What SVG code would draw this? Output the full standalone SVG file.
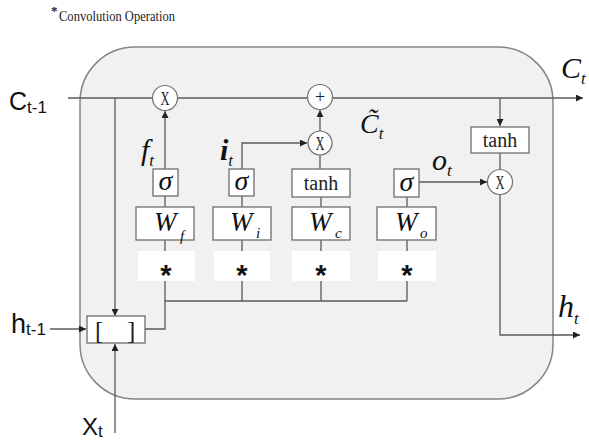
<svg xmlns="http://www.w3.org/2000/svg" width="589" height="443" viewBox="0 0 589 443">
<defs>
<marker id="ah" viewBox="0 0 10 10" refX="10" refY="5" markerWidth="7" markerHeight="7" markerUnits="userSpaceOnUse" orient="auto">
<path d="M0,0 L10,5 L0,10 z" fill="#222"/>
</marker>
<style>
.cell{fill:#f1f1f1;stroke:#858585;stroke-width:1.5}
.box{fill:#ffffff;stroke:#6e6e6e;stroke-width:1.3}
.star{fill:#ffffff;stroke:none}
.op{fill:#ffffff;stroke:#6e6e6e;stroke-width:1.2}
.ln{fill:none;stroke:#5a5a5a;stroke-width:1.3}
.arr{fill:none;stroke:#5a5a5a;stroke-width:1.3;marker-end:url(#ah)}
.sans{font-family:"Liberation Sans",Arial,sans-serif;fill:#111}
.serif{font-family:"Liberation Serif","Times New Roman",serif;fill:#222}
.it{font-family:"Liberation Serif","Times New Roman",serif;font-style:italic;fill:#111}
.x{font-family:"Liberation Serif","Times New Roman",serif;fill:#222;font-size:19px}
</style>
</defs>
<rect width="589" height="443" fill="#ffffff"/>
<g id="note">
<text class="serif" x="51" y="15" font-size="13" font-weight="bold">*</text>
<text class="serif" x="59" y="21" font-size="14" textLength="116" lengthAdjust="spacingAndGlyphs">Convolution Operation</text>
</g>
<g id="cell"><rect class="cell" x="80" y="47" width="473" height="352" rx="55" ry="55"/></g>
<g id="connectors">
<path class="arr" d="M68,98 H583"/>
<path class="arr" d="M115,98 V316"/>
<path class="arr" d="M115,433 V344"/>
<path class="arr" d="M50,329 H86"/>
<path class="ln" d="M145,329 H165 V301 H407"/>
<path class="ln" d="M165,301 V281 M242,301 V281 M321,301 V281 M407,301 V281"/>
<path class="ln" d="M165,251 V240 M242,251 V240 M321,251 V240 M407,251 V240"/>
<path class="ln" d="M165,207 V196 M242,207 V196 M321,207 V197 M407,207 V197"/>
<path class="arr" d="M165,169 V111"/>
<path class="arr" d="M242,169 V143 H307"/>
<path class="ln" d="M320,169 V155"/>
<path class="arr" d="M320,131 V110"/>
<path class="arr" d="M419,182 H487"/>
<path class="arr" d="M500,98 V126"/>
<path class="ln" d="M500,153 V170"/>
<path class="arr" d="M500,194 V335 H580"/>
</g>
<g id="concat">
<rect class="box" x="87" y="316" width="58" height="27"/>
<text class="serif" x="95" y="339" font-size="25">[</text>
<text class="serif" x="127" y="339" font-size="25">]</text>
</g>
<g id="star-f"><rect class="star" x="138" y="251" width="57" height="30"/><text class="sans" x="166" y="285" font-size="29" font-weight="bold" text-anchor="middle">*</text></g>
<g id="star-i"><rect class="star" x="214" y="251" width="56" height="30"/><text class="sans" x="242" y="285" font-size="29" font-weight="bold" text-anchor="middle">*</text></g>
<g id="star-c"><rect class="star" x="292" y="251" width="58" height="30"/><text class="sans" x="321" y="285" font-size="29" font-weight="bold" text-anchor="middle">*</text></g>
<g id="star-o"><rect class="star" x="378" y="251" width="58" height="30"/><text class="sans" x="407" y="285" font-size="29" font-weight="bold" text-anchor="middle">*</text></g>
<g id="W-f"><rect class="box" x="136" y="207" width="58" height="33"/><text class="it" x="154" y="231" font-size="27">W</text><text class="it" x="180" y="241" font-size="15">f</text></g>
<g id="W-i"><rect class="box" x="213" y="207" width="58" height="33"/><text class="it" x="230" y="231" font-size="27">W</text><text class="it" x="256" y="238" font-size="15">i</text></g>
<g id="W-c"><rect class="box" x="292" y="207" width="58" height="33"/><text class="it" x="309" y="231" font-size="27">W</text><text class="it" x="335" y="238" font-size="15">c</text></g>
<g id="W-o"><rect class="box" x="377" y="207" width="59" height="33"/><text class="it" x="395" y="231" font-size="27">W</text><text class="it" x="420" y="238" font-size="15">o</text></g>
<g id="sigma-f"><rect class="box" x="153" y="169" width="25" height="27"/><text class="it" x="165.5" y="190" font-size="28" text-anchor="middle">σ</text></g>
<g id="sigma-i"><rect class="box" x="229" y="169" width="25" height="27"/><text class="it" x="241.5" y="190" font-size="28" text-anchor="middle">σ</text></g>
<g id="tanh-c"><rect class="box" x="292" y="169" width="58" height="28"/><text class="serif" x="321" y="190" font-size="20" text-anchor="middle">tanh</text></g>
<g id="sigma-o"><rect class="box" x="394" y="169" width="25" height="28"/><text class="it" x="406.5" y="191" font-size="28" text-anchor="middle">σ</text></g>
<g id="tanh-out"><rect class="box" x="471" y="127" width="58" height="26"/><text class="serif" x="500" y="147" font-size="20" text-anchor="middle">tanh</text></g>
<g id="mul-f"><circle class="op" cx="165" cy="98" r="12.5"/><text class="x" x="160.5" y="105" textLength="9" lengthAdjust="spacingAndGlyphs">X</text></g>
<g id="add"><circle class="op" cx="320" cy="97" r="12.5"/><text class="serif" x="320" y="103" font-size="18" text-anchor="middle">+</text></g>
<g id="mul-i"><circle class="op" cx="320" cy="143" r="12"/><text class="x" x="315.5" y="150" textLength="9" lengthAdjust="spacingAndGlyphs">X</text></g>
<g id="mul-o"><circle class="op" cx="500" cy="182" r="12.5"/><text class="x" x="495.5" y="189" textLength="9" lengthAdjust="spacingAndGlyphs">X</text></g>
<g id="labels">
<text class="sans" x="9" y="110" font-size="25">C<tspan font-size="17" dy="3">t-1</tspan></text>
<text class="sans" x="11" y="333" font-size="27">h<tspan font-size="17" dy="2">t-1</tspan></text>
<text class="sans" x="82" y="435" font-size="24">X<tspan font-size="17" dy="2">t</tspan></text>
<text class="it" x="141" y="160" font-size="30">f<tspan font-size="17" dy="6">t</tspan></text>
<text class="it" x="220" y="160" font-size="30" font-weight="bold">i<tspan font-size="17" dy="6" font-weight="normal">t</tspan></text>
<text class="it" x="432" y="170" font-size="30">o<tspan font-size="17" dy="6">t</tspan></text>
<text class="it" x="360" y="133" font-size="28">C&#771;<tspan font-size="17" dy="6">t</tspan></text>
<text class="it" x="561" y="78" font-size="30">C<tspan font-size="17" dy="6">t</tspan></text>
<text class="it" x="558" y="317" font-size="32">h<tspan font-size="17" dy="7">t</tspan></text>
</g>
</svg>
